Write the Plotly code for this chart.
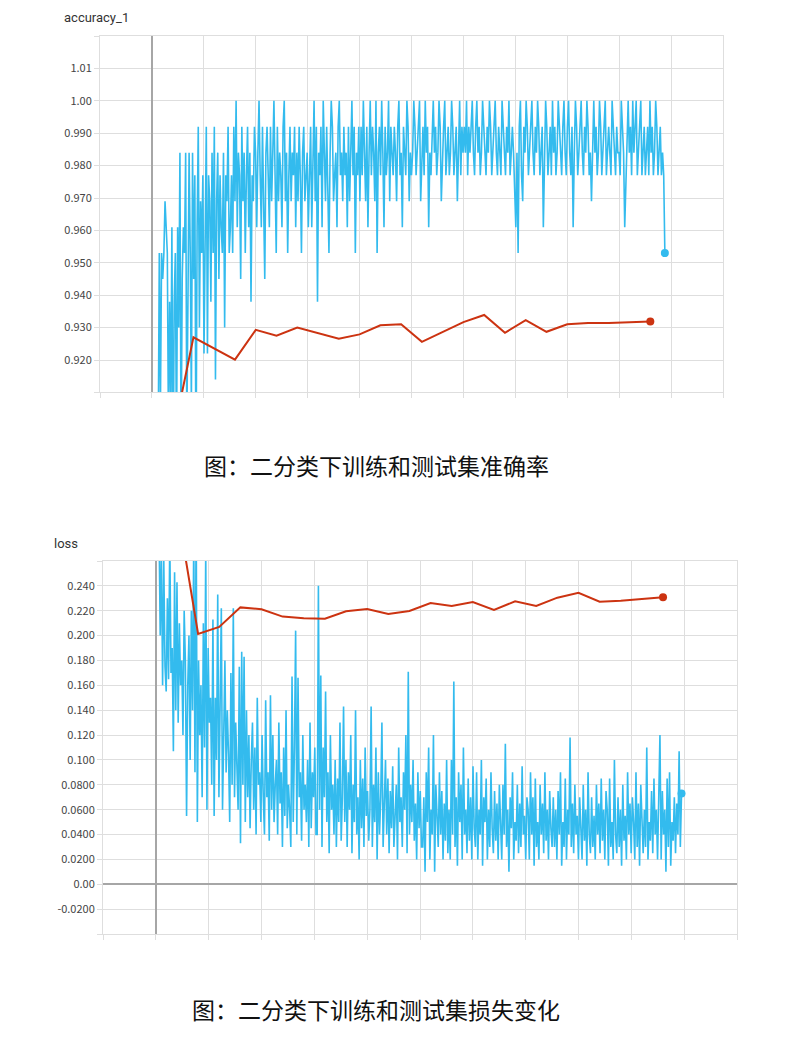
import numpy as np
import plotly.graph_objects as go

# ---------------- data: accuracy chart ----------------
acc_train = [
    .891, .953, .906, .953, .945, .953, .969, .961, .953, .898, .938, .906, .961, .875, .938, .953, .891, .961,
    .930, .984, .891, .945, .961, .953, .984, .898, .938, .984, .953, .906, .984, .945, .977, .883, .961, .992, .930, .969, .953, .977, .922,
    .961, .992, .922, .977, .969, .938, .984, .953, .992, .914, .969, .984, .945, .977, .961, .953, .984, .930, .977, .969, .992, .953, .961,
    .977, .953, .992, .969, 1, .961, .984, .977, .945, .992, .969, .984, .953, .977, .992, .961, .984, .938, .977, .969, .992, .984, .961,
    .984, 1, .977, .961, .992, .969, .945, .984, .992, .977, .961, .992, .969, .984, 1, .977, .953, .992, .969, .984, .977, .961, .992,
    1, .969, .984, .953, .977, .992, .969, .984, .977, .992, .961, .984, .969, .992, .977, .953, .984, .992, .969, .977, .984, .961,
    .984, .992, .961, .977, 1, .969, .992, .938, .984, .977, .992, .961, 1, .984, .969, .992, .977, .953, .984, 1, .992, .969, .977,
    .984, .961, .992, 1, .977, .984, .969, .992, .977, .984, .961, .992, .969, .984, 1, .977, .992, .953, .984, .977, .992, .969,
    .992, .977, 1, .984, .969, .992, .961, .984, 1, .977, .992, .984, .969, 1, .953, .984, .992, .977, 1, .984, .961, .992, .977,
    .984, 1, .969, .992, .984, .977, .992, .984, .969, .992, 1, .977, .984, .961, .992, .984, .977, 1, .992, .969, .984, .977,
    .984, 1, .992, .977, .984, .992, 1, .969, .984, .992, .977, 1, .984, .992, .961, .984, .977, .992, 1, .984, .992, .977, .984,
    1, .992, .969, .984, .992, 1, .977, .984, .992, .977, .984, 1, .992, .977, .984, .992, .969, .984, 1, .977, .992, .984,
    .992, .984, 1, .977, .992, .984, .992, 1, .984, .977, .992, 1, .984, .992, .977, .984, 1, .992, .984, .977, .992, .984, 1,
    .992, .977, .984, .992, 1, .984, .977, .992, .984, .977, 1, .992, .984, .977, .992, .984, 1, .977, .984, .992, .984, .969,
    .961, .984, .953, .992, 1, .977, .969, .992, .984, 1, .992, .977, .984, .992, 1, .984, .977, .992, .984, 1, .992, .977, .984,
    .992, .961, .984, 1, .992, .977, .984, .992, .977, 1, .984, .992, .977, .984, 1, .992, .984, .977, .992, 1, .984, .977,
    .992, 1, .984, .977, .992, .961, .984, 1, .992, .977, .984, .992, 1, .984, .977, .992, .984, 1, .992, .977, .984, .969, .992,
    1, .984, .992, .977, .984, 1, .992, .977, .984, .992, 1, .977, .984, .992, .984, .977, 1, .992, .984, .977, .992, .984,
    .984, .977, 1, .992, .984, .961, .977, .992, 1, .984, .992, .977, 1, .984, .992, 1, .977, .984, .992, 1,
    .977, .984, .992, .977, .984, .992, .977, 1, .984, .992, .977, .984, 1, .992, .977, .984, .992, .977, .984, .977, .953,
]
acc_train_first_step = 120
acc_train_last_step = 9880

acc_test_steps = [400, 800, 1600, 2000, 2400, 2800, 3600, 4000, 4400, 4800,
                  5200, 6000, 6400, 6800, 7200, 7600, 8000, 8400, 8800, 9600]
acc_test = [0.896, 0.927, 0.9201, 0.9293, 0.9275, 0.9300, 0.9266, 0.9279, 0.9307, 0.9310,
            0.9256, 0.9317, 0.9339, 0.9284, 0.9323, 0.9287, 0.9310, 0.9314, 0.9314, 0.9319]

acc_tickvals = [0.91, 0.92, 0.93, 0.94, 0.95, 0.96, 0.97, 0.98, 0.99, 1.00, 1.01, 1.02]
acc_ticktext = ["", "0.920", "0.930", "0.940", "0.950", "0.960", "0.970", "0.980",
                "0.990", "1.00", "1.01", ""]

# ---------------- data: loss chart ----------------
loss_train = [
    .29, .20, .27, .16, .26, .175, .155, .23, .165, .28, .17, .19, .107, .251, .14, .243, .13, .21, .16, .18, .12, .22,
    .18, .055, .16, .20, .10, .22, .14, .28, .09, .30, .05, .18, .12, .16, .07, .21, .11, .27, .06, .19, .13, .15,
    .08, .213, .055, .15, .10, .233, .07, .16, .222, .06, .12, .18, .09, .14, .105, .05, .17, .08, .222, .07, .13, .10,
    .06, .175, .033, .187, .08, .183, .05, .14, .07, .12, .045, .10, .13, .06, .11, .04, .15, .08, .09, .05, .12, .07,
    .04, .148, .07, .09, .035, .152, .06, .12, .05, .08, .10, .04, .13, .065, .09, .03, .11, .055, .14, .045, .08, .06,
    .03, .167, .05, .11, .204, .04, .166, .07, .09, .035, .12, .06, .08, .05, .10, .03, .13, .045, .09, .07, .11, .04,
    .04, .24, .06, .168, .03, .11, .07, .155, .05, .09, .025, .12, .06, .08, .04, .10, .03, .085, .05, .13, .035, .07,
    .143, .05, .10, .03, .09, .06, .12, .025, .08, .05, .14, .04, .07, .02, .10, .045, .085, .03, .11, .055, .075, .035,
    .06, .143, .03, .08, .05, .11, .02, .09, .04, .07, .13, .03, .06, .10, .04, .085, .025, .075, .045, .095, .03, .065,
    .08, .02, .11, .05, .07, .03, .09, .06, .12, .025, .171, .04, .08, .05, .10, .035, .065, .02, .09, .045, .075, .03,
    .03, .07, .01, .09, .05, .11, .02, .06, .04, .12, .01, .08, .05, .03, .09, .04, .075, .02, .065, .035, .10, .025,
    .06, .02, .10, .04, .163, .03, .07, .015, .09, .05, .08, .02, .11, .04, .06, .025, .085, .035, .07, .02, .095, .045,
    .03, .09, .02, .06, .04, .10, .015, .07, .05, .085, .02, .06, .03, .09, .045, .025, .075, .035, .065, .02, .08, .04,
    .02, .08, .04, .113, .03, .06, .01, .07, .045, .09, .02, .05, .035, .08, .025, .065, .03, .095, .04, .055, .02, .07,
    .06, .02, .09, .04, .07, .015, .085, .03, .05, .02, .08, .04, .065, .025, .09, .035, .06, .02, .075, .045, .03, .07,
    .03, .06, .02, .075, .04, .09, .015, .05, .03, .085, .02, .06, .04, .118, .03, .065, .025, .08, .04, .055, .02, .07,
    .05, .02, .08, .035, .06, .015, .09, .04, .025, .07, .03, .055, .02, .08, .04, .065, .025, .085, .035, .06, .02, .075,
    .06, .015, .085, .03, .05, .02, .10, .04, .025, .07, .03, .06, .015, .08, .035, .055, .02, .09, .04, .065, .025, .07,
    .05, .02, .09, .03, .065, .015, .08, .04, .025, .06, .03, .11, .02, .05, .035, .075, .025, .085, .04, .06, .02, .07,
    .12, .02, .075, .04, .06, .01, .085, .03, .09, .015, .05, .035, .07, .025, .065, .04, .107, .03, .073,
]
loss_train_first_step = 60
loss_train_last_step = 9950

loss_test_steps = [400, 800, 1200, 1600, 2000, 2400, 2800, 3200, 3600, 4000, 4400, 4800,
                   5200, 5600, 6000, 6400, 6800, 7200, 7600, 8000, 8400, 8800, 9600]
loss_test = [0.304, 0.2013, 0.207, 0.2227, 0.2212, 0.2153, 0.2139, 0.2136, 0.2196, 0.2214,
             0.2174, 0.2198, 0.2262, 0.2238, 0.227, 0.2206, 0.2276, 0.2238, 0.2305, 0.2345,
             0.2273, 0.228, 0.2308]

loss_tickvals = [-0.04, -0.02, 0.0, 0.02, 0.04, 0.06, 0.08, 0.10, 0.12, 0.14, 0.16, 0.18,
                 0.20, 0.22, 0.24, 0.26]
loss_ticktext = ["", "-0.0200", "0.00", "0.0200", "0.0400", "0.0600", "0.0800", "0.100",
                 "0.120", "0.140", "0.160", "0.180", "0.200", "0.220", "0.240", ""]

titles = ["accuracy_1", "loss"]
captions = ["图：二分类下训练和测试集准确率", "图：二分类下训练和测试集损失变化"]

# ---------------- styling ----------------
BLUE = "#33bbee"
RED = "#cc3311"
GRID = "#dedede"
ZERO = "#a6a6a6"
W, H = 788, 1062

acc_steps = np.linspace(acc_train_first_step, acc_train_last_step, len(acc_train))
loss_steps = np.linspace(loss_train_first_step, loss_train_last_step, len(loss_train))

fig = go.Figure()

# accuracy chart
fig.add_trace(go.Scatter(x=acc_steps, y=acc_train, mode="lines",
                         line=dict(color=BLUE, width=1.6), xaxis="x", yaxis="y"))
fig.add_trace(go.Scatter(x=[acc_steps[-1]], y=[acc_train[-1]], mode="markers",
                         marker=dict(color=BLUE, size=8), xaxis="x", yaxis="y"))
fig.add_trace(go.Scatter(x=acc_test_steps, y=acc_test, mode="lines",
                         line=dict(color=RED, width=2), xaxis="x", yaxis="y"))
fig.add_trace(go.Scatter(x=[acc_test_steps[-1]], y=[acc_test[-1]], mode="markers",
                         marker=dict(color=RED, size=8), xaxis="x", yaxis="y"))

# loss chart
fig.add_trace(go.Scatter(x=loss_steps, y=loss_train, mode="lines",
                         line=dict(color=BLUE, width=1.6), xaxis="x2", yaxis="y2"))
fig.add_trace(go.Scatter(x=[loss_steps[-1]], y=[loss_train[-1]], mode="markers",
                         marker=dict(color=BLUE, size=8), xaxis="x2", yaxis="y2"))
fig.add_trace(go.Scatter(x=loss_test_steps, y=loss_test, mode="lines",
                         line=dict(color=RED, width=2), xaxis="x2", yaxis="y2"))
fig.add_trace(go.Scatter(x=[loss_test_steps[-1]], y=[loss_test[-1]], mode="markers",
                         marker=dict(color=RED, size=8), xaxis="x2", yaxis="y2"))

tickfont = dict(family="Noto Sans CJK JP, DejaVu Sans", size=11, color="#444444")

def xaxis_cfg(domain, anchor):
    return dict(domain=domain, anchor=anchor, range=[-1000, 11000], tick0=0, dtick=1000,
                showticklabels=False, ticks="outside", ticklen=5, tickcolor=GRID,
                showgrid=True, gridcolor=GRID, gridwidth=1,
                zeroline=True, zerolinecolor=ZERO, zerolinewidth=2,
                showline=True, linecolor=GRID, linewidth=1, mirror=True, fixedrange=True)

def yaxis_cfg(domain, anchor, rng, tv, tt):
    return dict(domain=domain, anchor=anchor, range=rng, tickmode="array",
                tickvals=tv, ticktext=tt, ticks="outside", ticklen=5, tickcolor=GRID,
                tickfont=tickfont, showgrid=True, gridcolor=GRID, gridwidth=1,
                zeroline=True, zerolinecolor=ZERO, zerolinewidth=2,
                showline=True, linecolor=GRID, linewidth=1, mirror=True, fixedrange=True)

fig.update_layout(
    width=W, height=H,
    margin=dict(l=0, r=0, t=0, b=0),
    paper_bgcolor="white", plot_bgcolor="white",
    showlegend=False,
    xaxis=xaxis_cfg([100 / W, 723 / W], "y"),
    yaxis=yaxis_cfg([1 - 392.4 / H, 1 - 36 / H], "x", [0.91, 1.02], acc_tickvals, acc_ticktext),
    xaxis2=xaxis_cfg([103 / W, 737 / W], "y2"),
    yaxis2=yaxis_cfg([1 - 934 / H, 1 - 561 / H], "x2", [-0.04, 0.26], loss_tickvals, loss_ticktext),
    annotations=[
        dict(text=titles[0], x=62 / W, y=1 - 18 / H, xref="paper", yref="paper",
             xanchor="left", yanchor="middle", showarrow=False,
             font=dict(family="Roboto, Noto Sans", size=13, color="#333333")),
        dict(text=titles[1], x=52 / W, y=1 - 543 / H, xref="paper", yref="paper",
             xanchor="left", yanchor="middle", showarrow=False,
             font=dict(family="Roboto, Noto Sans", size=13, color="#333333")),
        dict(text=captions[0], x=376 / W, y=1 - 465 / H, xref="paper", yref="paper",
             xanchor="center", yanchor="middle", showarrow=False,
             font=dict(family="Noto Sans CJK SC", size=23, color="#111111")),
        dict(text=captions[1], x=375.5 / W, y=1 - 1009 / H, xref="paper", yref="paper",
             xanchor="center", yanchor="middle", showarrow=False,
             font=dict(family="Noto Sans CJK SC", size=23, color="#111111")),
    ],
)

fig.write_html("out.html")
